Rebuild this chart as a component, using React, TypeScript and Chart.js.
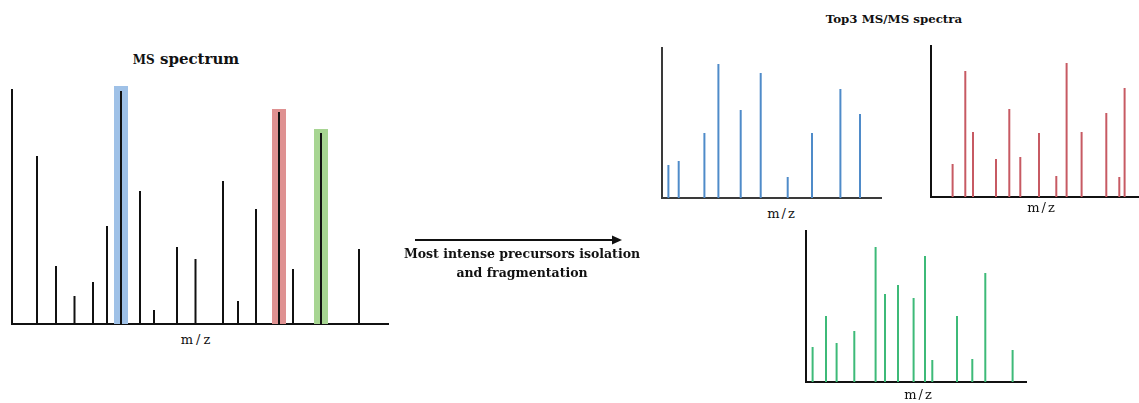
import React, { useEffect, useRef } from "react";
import { Chart, registerables } from "chart.js";
Chart.register(...registerables);

// ---- MS survey spectrum ----
const msMz = [25, 44, 62.5, 81, 95, 109, 128, 142, 165, 183.5, 211, 226, 244, 267, 281, 309, 347];
const msIntensity = [168, 58, 28, 42, 98, 233, 133, 14, 77, 65, 143, 23, 115, 212, 55, 191, 75];
// selected precursors (top 3) and isolation windows
const precursorMz = [109, 267, 309];
const precursorWindow = [238, 215, 195];
const precursorColors = ["#9fc1e7", "#df9191", "#a7d592"];

// ---- MS/MS spectra ----
const blueMz = [6.4, 16.7, 42.4, 56.4, 78.7, 98.7, 125.7, 150, 178.4, 198];
const blueIntensity = [33, 37, 65, 134, 88, 125, 21, 65, 109, 84];
const redMz = [21.6, 34.3, 42, 65, 78.3, 89.3, 108, 125.3, 135.6, 150.6, 175.3, 188.3, 193.6];
const redIntensity = [33, 126, 65, 38, 88, 40, 64, 21, 134, 65, 84, 20, 109];
const greenMz = [6.6, 20, 30.6, 48.3, 69.6, 79, 92, 107.6, 119, 126.3, 151, 166.3, 179.3, 206.6];
const greenIntensity = [35, 66, 39, 51, 135, 88, 97, 84, 126, 22, 66, 23, 109, 32];

const PAD = 8;
const SERIF = "'DejaVu Serif', 'Liberation Serif', serif";

type SpecProps = {
  left: number; top: number; width: number; height: number;
  xMax: number; yMax: number;
  mz: number[]; intensity: number[];
  color: string; axisColor: string; stick: number;
  hlMz?: number[]; hlHeight?: number[]; hlColors?: string[];
};

function Spectrum(p: SpecProps) {
  const ref = useRef<HTMLCanvasElement>(null);
  useEffect(() => {
    const datasets: any[] = [
      {
        data: p.mz.map((x, i) => ({ x, y: p.intensity[i] })),
        backgroundColor: p.color,
        borderWidth: 0,
        grouped: false,
        barPercentage: 1,
        maxBarThickness: p.stick,
        xAxisID: "x",
        yAxisID: "y",
        order: 0,
      },
    ];
    const axis = (max: number) => ({
      type: "linear",
      min: 0,
      max,
      offset: false,
      grid: { display: false, drawTicks: false },
      ticks: { display: false },
      border: { display: true, color: p.axisColor, width: 2 },
    });
    const scales: any = { x: axis(p.xMax), y: axis(p.yMax) };
    if (p.hlMz && p.hlHeight) {
      datasets.push({
        data: p.hlMz.map((x, i) => ({ x, y: p.hlHeight![i] })),
        backgroundColor: p.hlColors,
        borderWidth: 0,
        grouped: false,
        barPercentage: 1,
        maxBarThickness: 14,
        xAxisID: "xh",
        yAxisID: "y",
        order: 1,
        clip: false,
      });
      scales.xh = { type: "linear", min: 0, max: p.xMax, offset: false, display: false };
    }
    const chart = new Chart(ref.current!, {
      type: "bar",
      data: { datasets },
      options: {
        responsive: false,
        animation: false,
        events: [],
        layout: { padding: PAD },
        plugins: { legend: { display: false }, tooltip: { enabled: false } },
        scales,
      } as any,
    });
    return () => chart.destroy();
  }, []);
  const w = p.width + 2 * PAD;
  const h = p.height + 2 * PAD;
  return (
    <canvas
      ref={ref}
      width={w}
      height={h}
      style={{ position: "absolute", left: p.left - PAD, top: p.top - PAD, width: w, height: h }}
    />
  );
}

function Label(props: { cx: number; top: number; size: number; bold?: boolean; spacing?: number; lh?: number; children: any }) {
  return (
    <div
      style={{
        position: "absolute",
        left: props.cx - 200,
        width: 400,
        top: props.top,
        textAlign: "center",
        fontFamily: SERIF,
        fontSize: props.size,
        fontWeight: props.bold ? "bold" : "normal",
        letterSpacing: props.spacing ?? 0,
        lineHeight: (props.lh ?? Math.round(props.size * 1.3)) + "px",
        color: "#111",
        whiteSpace: "nowrap",
      }}
    >
      {props.children}
    </div>
  );
}

export default function App() {
  return (
    <div
      style={{
        position: "absolute",
        left: 0,
        top: 0,
        width: 1139,
        height: 403,
        overflow: "hidden",
        background: "#fff",
      }}
    >
      <Spectrum
        left={12} top={90} width={376} height={234} xMax={376} yMax={234}
        mz={msMz} intensity={msIntensity} color="#111" axisColor="#111" stick={2}
        hlMz={precursorMz} hlHeight={precursorWindow} hlColors={precursorColors}
      />
      <Spectrum
        left={662} top={48} width={219} height={150} xMax={219} yMax={150}
        mz={blueMz} intensity={blueIntensity} color="#4f8bc9" axisColor="#3a3a3a" stick={2}
      />
      <Spectrum
        left={931} top={46} width={208} height={151} xMax={208} yMax={151}
        mz={redMz} intensity={redIntensity} color="#c75a63" axisColor="#111" stick={2}
      />
      <Spectrum
        left={806} top={231} width={220} height={151} xMax={220} yMax={151}
        mz={greenMz} intensity={greenIntensity} color="#3dba78" axisColor="#111" stick={2}
      />

      <Label cx={186} top={49} size={15} bold lh={20}>
        <span style={{ fontSize: 12 }}>MS</span> spectrum
      </Label>
      <Label cx={894} top={12} size={11.8} bold lh={15}>
        Top3 MS/MS spectra
      </Label>
      <Label cx={522} top={244} size={12.5} bold lh={19}>
        Most intense precursors isolation
        <br />
        and fragmentation
      </Label>

      <Label cx={197} top={332} size={13} spacing={3} lh={16}>m/z</Label>
      <Label cx={782} top={206} size={13} spacing={2} lh={16}>m/z</Label>
      <Label cx={1042} top={200} size={13} spacing={2} lh={16}>m/z</Label>
      <Label cx={919} top={387} size={13} spacing={2} lh={16}>m/z</Label>

      <svg
        width={1139}
        height={403}
        style={{ position: "absolute", left: 0, top: 0, pointerEvents: "none" }}
      >
        <line x1={415} y1={240} x2={615} y2={240} stroke="#111" strokeWidth={2} />
        <polygon points="622,240 612,235.5 612,244.5" fill="#111" />
      </svg>
    </div>
  );
}
